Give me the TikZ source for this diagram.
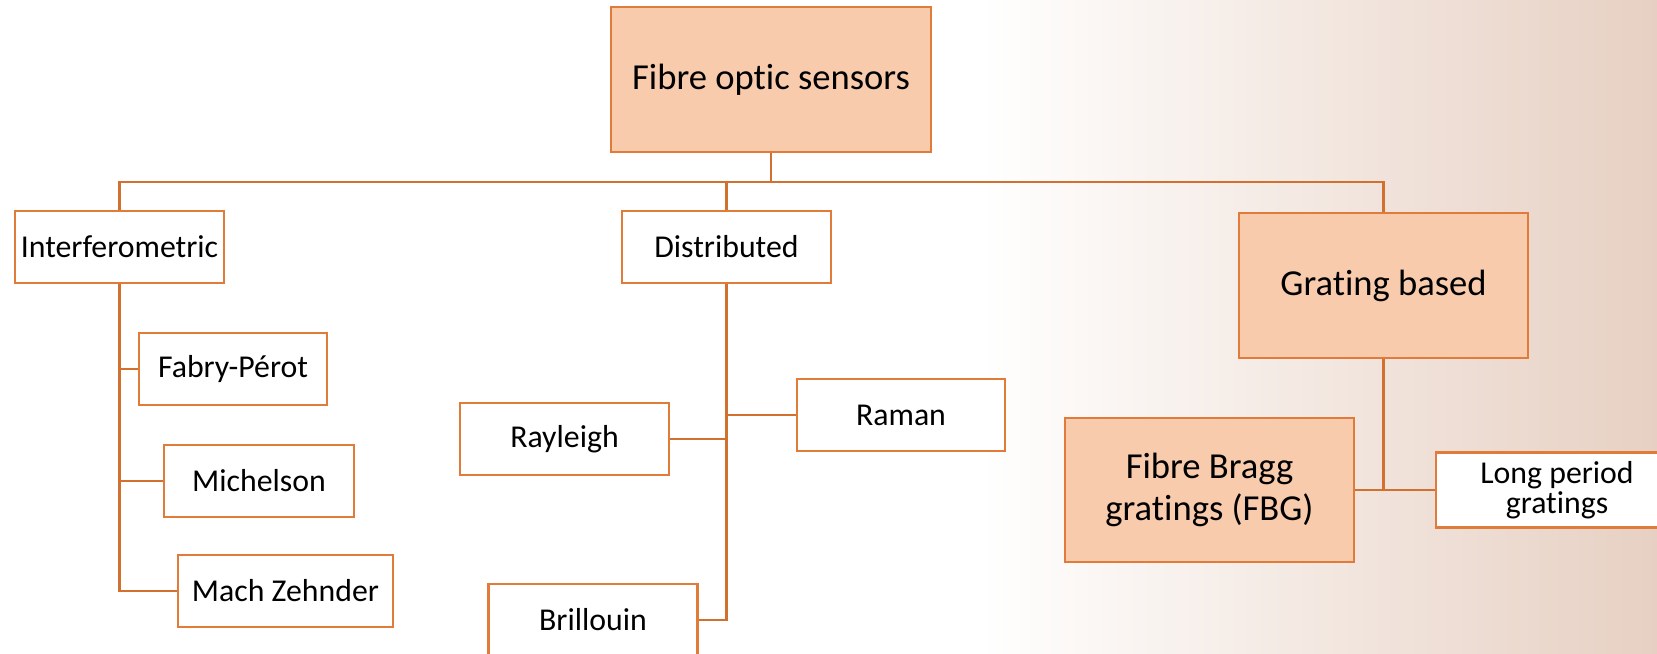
\documentclass[tikz,border=0pt]{standalone}
\usepackage{fontspec}
\setmainfont{Carlito}[Ligatures={NoCommon,NoRequired,NoContextual,NoRare}, Contextuals=NoAlternate]
\usetikzlibrary{positioning}
\definecolor{boxline}{HTML}{E07B39}
\definecolor{boxfill}{HTML}{F8CBAD}
\definecolor{wirecol}{HTML}{D2702F}
\definecolor{bgtint}{HTML}{E7D0C3}
\tikzset{
  leaf/.style = {
    draw=boxline, fill=white, line width=1.4pt,
    minimum height=36pt, inner sep=1pt, align=center,
    font=\fontsize{15.9}{15}\selectfont % small boxes
  },
  head/.style = {leaf, fill=boxfill, font=\fontsize{18.3}{21}\selectfont},
  link/.style = {draw=wirecol, line width=1.3pt}
}

\begin{document}
\begin{tikzpicture}[x=0.5pt, y=-0.5pt]
\useasboundingbox (0,0) rectangle (1657,653);
\clip (0,0) rectangle (1657,653);
\fill[white] (0,0) rectangle (1657,653);
\shade[left color=white, middle color=white!72!bgtint, right color=bgtint] (980,0) rectangle (1657,653); % tinted right side

\node[head, minimum width=160pt, minimum height=72.5pt] (top) at (771,79.5) {Fibre optic sensors};
\coordinate (bus) at (771,182);

\node[leaf, minimum width=104.5pt] (interf)  at (119.5,247) {Interferometric};
\node[leaf, minimum width=104.5pt] (distrib) at (726.5,247) {Distributed};
\node[head, minimum width=144.5pt, minimum height=72.5pt] (grating) at (1383.5,285.5) {Grating based};

\node[leaf, minimum width=94pt]    (fabry) at (233,369)   {Fabry-Pérot};
\node[leaf, minimum width=95pt]    (michel) at (259,481)  {Michelson};
\node[leaf, minimum width=107.5pt] (mach) at (285.5,591)  {Mach Zehnder};

\node[leaf, minimum width=104.5pt] (rayl) at (564.5,439) {Rayleigh};
\node[leaf, minimum width=104pt]   (raman) at (901,415)  {Raman};
\node[leaf, minimum width=104.5pt] (brill) at (593,620)  {Brillouin};

\node[head, minimum width=144.5pt, minimum height=72pt] (fbg) at (1209.5,490) {Fibre Bragg\\gratings (FBG)};
\node[leaf, minimum width=121pt, minimum height=37.5pt] (long) at (1557,490) {Long period\\gratings};

% top level
\draw[link] (top.south) -- (bus);
\draw[link] (interf.north) |- (bus) -| (grating.north);
\draw[link] (distrib.north) -- (distrib.north |- bus);

% interferometric branch
\draw[link] (interf.south) |- (mach.west);
\draw[link] (fabry.west) -- (fabry.west -| interf.south);
\draw[link] (michel.west) -- (michel.west -| interf.south);

% distributed branch
\draw[link] (distrib.south) |- (brill.east);
\draw[link] (rayl.east) -- (rayl.east -| distrib.south);
\draw[link] (raman.west) -- (raman.west -| distrib.south);

% grating branch
\draw[link] (grating.south) -- (grating.south |- fbg.east);
\draw[link] (fbg.east) -- (long.west);
\end{tikzpicture}
\end{document}
